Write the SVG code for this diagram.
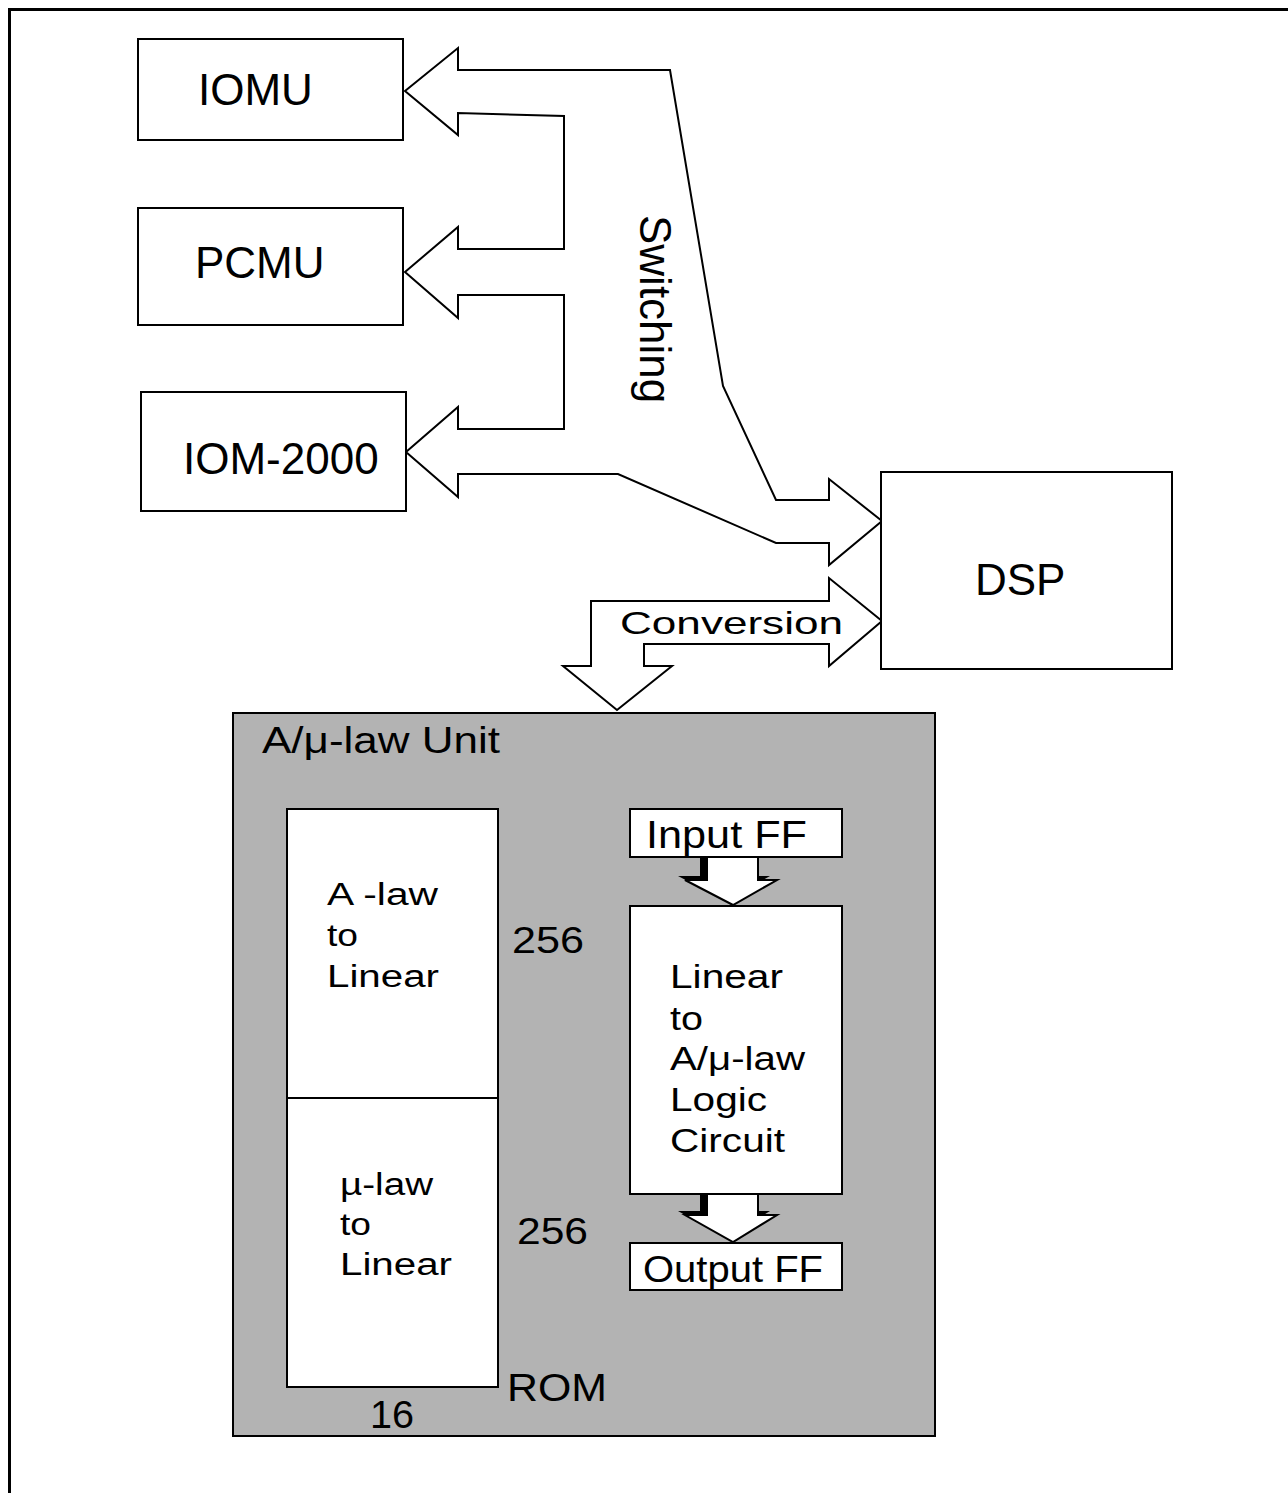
<svg xmlns="http://www.w3.org/2000/svg" width="1288" height="1493" viewBox="0 0 1288 1493">
<style>
.box{fill:#fff;stroke:#000;stroke-width:2}
.unit{fill:#b3b3b3;stroke:#000;stroke-width:2}
.bus{fill:#fff;stroke:#000;stroke-width:2;stroke-linejoin:miter}
.sh{fill:#000}
.t{font-family:"Liberation Sans",Arial,Helvetica,sans-serif;fill:#000}
.big{font-size:44px}
.mid{font-size:36px}
</style>
<rect width="1288" height="1493" fill="#fff"/>
<g id="frame">
<path d="M9.5 1493 V9.5 H1288" fill="none" stroke="#000" stroke-width="3"/>
</g>
<g id="connectors">
<path class="bus" d="M405 91 L458 48 L458 70 L670 70 L723 386 L776 500 L829 500 L829 479 L882 521 L829 565 L829 543 L776 543 L618 474 L458 474 L458 497 L406 452 L458 407 L458 429 L564 429 L564 295 L458 295 L458 318 L405 272 L458 227 L458 249 L564 249 L564 116 L458 113 L458 135 Z"/>
<text class="t big" transform="translate(640,215) rotate(90)">Switching</text>
<path class="bus" d="M617 710 L563 666 L591 666 L591 601 L829 601 L829 578 L882 621 L829 666 L829 644 L644 644 L644 666 L672 666 Z"/>
<text class="t" x="620" y="634" font-size="32" textLength="223" lengthAdjust="spacingAndGlyphs">Conversion</text>
</g>
<g id="iomu">
<rect class="box" x="138" y="39" width="265" height="101"/>
<text class="t big" x="198" y="105">IOMU</text>
</g>
<g id="pcmu">
<rect class="box" x="138" y="208" width="265" height="117"/>
<text class="t big" x="195" y="278">PCMU</text>
</g>
<g id="iom2000">
<rect class="box" x="141" y="392" width="265" height="119"/>
<text class="t big" x="183" y="474">IOM-2000</text>
</g>
<g id="dsp">
<rect class="box" x="881" y="472" width="291" height="197"/>
<text class="t big" x="975" y="595">DSP</text>
</g>
<g id="unit">
<rect class="unit" x="233" y="713" width="702" height="723"/>
<text class="t" x="262" y="753" font-size="37" textLength="238" lengthAdjust="spacingAndGlyphs">A/μ-law Unit</text>
</g>
<g id="rom">
<rect class="box" x="287" y="809" width="211" height="289"/>
<rect class="box" x="287" y="1098" width="211" height="289"/>
<text class="t" x="327" y="905" font-size="31" textLength="111" lengthAdjust="spacingAndGlyphs">A -law</text>
<text class="t" x="327" y="946" font-size="31" textLength="31" lengthAdjust="spacingAndGlyphs">to</text>
<text class="t" x="327" y="987" font-size="31" textLength="112" lengthAdjust="spacingAndGlyphs">Linear</text>
<text class="t" x="340" y="1195" font-size="31" textLength="93" lengthAdjust="spacingAndGlyphs">µ-law</text>
<text class="t" x="340" y="1235" font-size="31" textLength="31" lengthAdjust="spacingAndGlyphs">to</text>
<text class="t" x="340" y="1275" font-size="31" textLength="112" lengthAdjust="spacingAndGlyphs">Linear</text>
<text class="t" x="512" y="953" font-size="36" textLength="72" lengthAdjust="spacingAndGlyphs">256</text>
<text class="t" x="517" y="1244" font-size="36" textLength="71" lengthAdjust="spacingAndGlyphs">256</text>
<text class="t" x="507" y="1401" font-size="39" textLength="100" lengthAdjust="spacingAndGlyphs">ROM</text>
<text class="t" x="370" y="1428" font-size="38" textLength="44" lengthAdjust="spacingAndGlyphs">16</text>
</g>
<g id="flow-arrows">
<path class="sh" d="M700 853 L751 853 L751 876 L770 876 L726 901 L678 876 L700 876 Z"/>
<path class="bus" d="M707 857 L758 857 L758 880 L777 880 L733 905 L685 880 L707 880 Z"/>
<path class="sh" d="M700 1190 L751 1190 L751 1211 L770 1211 L726 1238 L678 1211 L700 1211 Z"/>
<path class="bus" d="M707 1194 L758 1194 L758 1215 L777 1215 L733 1242 L685 1215 L707 1215 Z"/>
</g>
<g id="inputff">
<rect class="box" x="630" y="809" width="212" height="48"/>
<text class="t" x="646" y="848" font-size="38" textLength="161" lengthAdjust="spacingAndGlyphs">Input FF</text>
</g>
<g id="logic">
<rect class="box" x="630" y="906" width="212" height="288"/>
<text class="t" x="670" y="988" font-size="33" textLength="113" lengthAdjust="spacingAndGlyphs">Linear</text>
<text class="t" x="670" y="1030" font-size="33" textLength="33" lengthAdjust="spacingAndGlyphs">to</text>
<text class="t" x="670" y="1070" font-size="33" textLength="135" lengthAdjust="spacingAndGlyphs">A/μ-law</text>
<text class="t" x="670" y="1111" font-size="33" textLength="97" lengthAdjust="spacingAndGlyphs">Logic</text>
<text class="t" x="670" y="1152" font-size="33" textLength="115" lengthAdjust="spacingAndGlyphs">Circuit</text>
</g>
<g id="outputff">
<rect class="box" x="630" y="1243" width="212" height="47"/>
<text class="t" x="643" y="1282" font-size="36" textLength="180" lengthAdjust="spacingAndGlyphs">Output FF</text>
</g>
</svg>
